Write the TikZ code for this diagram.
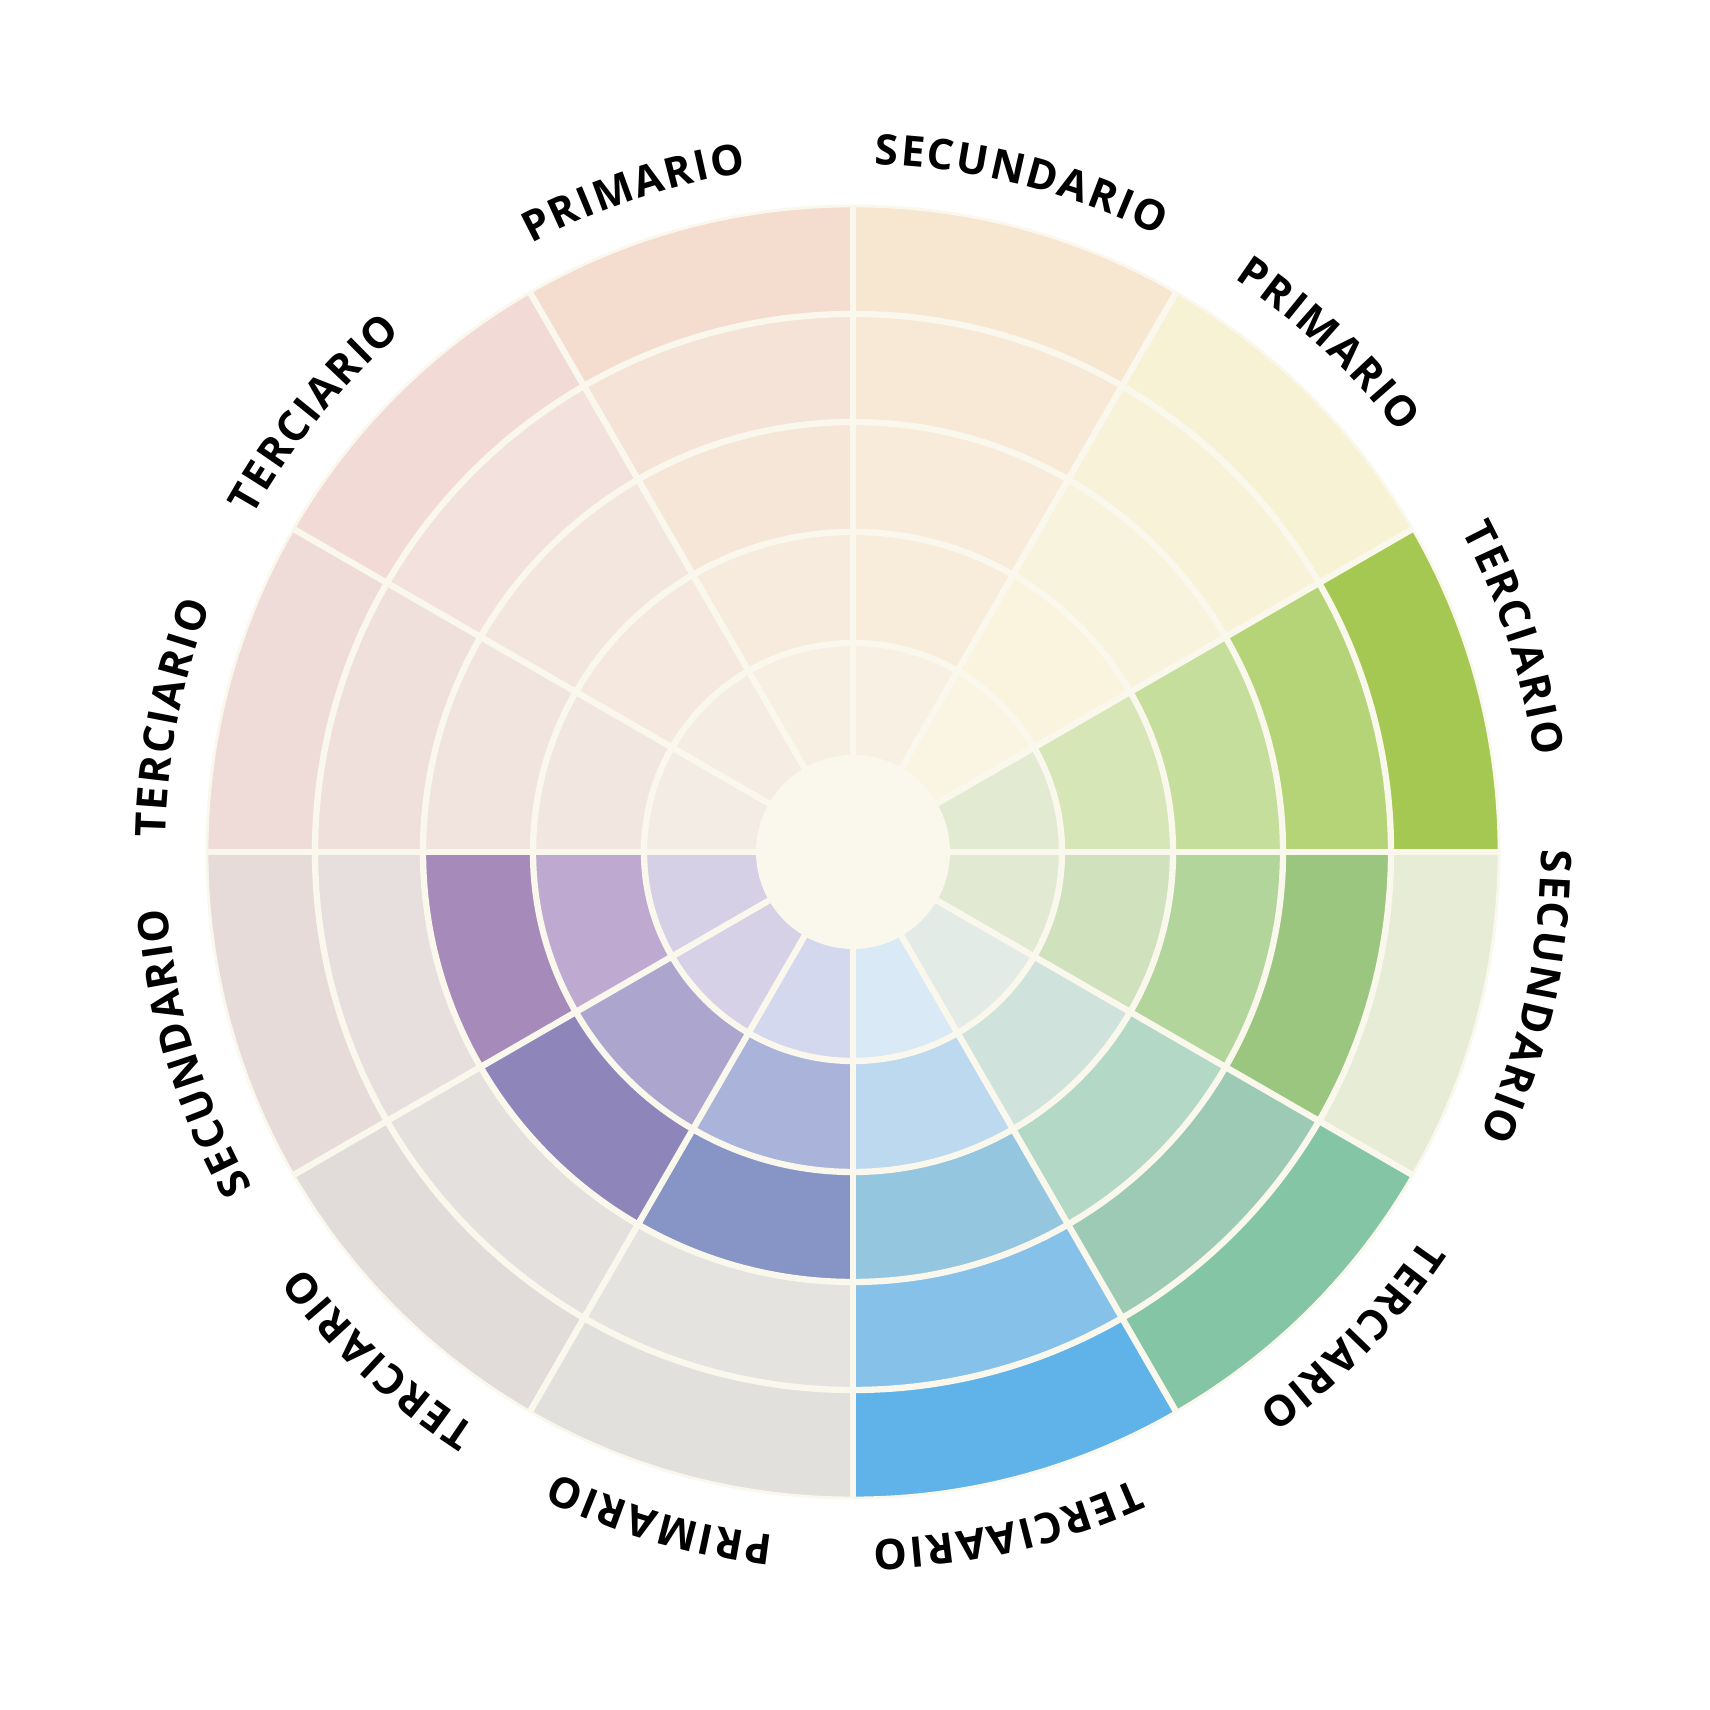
\documentclass[tikz,border=0pt]{standalone}
\usepackage{fontspec}
\usepackage{tikz}
\usetikzlibrary{decorations.text}
\newfontfamily\wheelfont{Open Sans}
\newcommand{\rimfont}{\wheelfont\bfseries\fontsize{12}{14}\selectfont\kern0.6pt}
\definecolor{divider}{RGB}{250,247,236}
\definecolor{hub}{RGB}{250,247,236}

\tikzset{
  divline/.style={draw=divider, line width=1.8pt},
  rimlabel/.style={decorate, decoration={text along path, text align=center,
      text={|\rimfont|#1}}}
}

\begin{document}
\begin{tikzpicture}
\useasboundingbox (0,0) rectangle (17.1,17.1);
\fill[white] (0,0) rectangle (17.1,17.1);
\begin{scope}[shift={(8.53,8.58)}]
% colour cells: start angle / ring 1 (inner) ... ring 5 (outer)
\foreach \s/\ca/\cb/\cc/\cd/\ce in {
    0/E3EAD2/D6E6B6/C6DE9B/B5D477/A5C852,
    30/FAF5E3/FAF3DE/F8F3DC/F8F3D8/F7F2D3,
    60/F8F0E2/F8EDDB/F8EBD9/F8E9D6/F7E6D0,
    90/F7EFE2/F6EBDC/F5E6D8/F4E3D6/F4DCCF,
    120/F5EDE3/F4E8DF/F3E6DF/F2E1DC/F2DAD6,
    150/F3ECE5/F1E6E0/F1E4DF/F0E0DC/EFDCD9,
    180/D6D0E7/BEA9D1/A68AB9/E6DFDD/E6DBD9,
    210/D6D1E7/ACA6CF/8E86BB/E4E0DD/E1DCDA,
    240/D3D8EE/AAB4DA/8795C6/E5E3DF/E1E0DD,
    270/D9E9F6/BCD9F0/95C6E0/86C1E9/60B3E8,
    300/E3EBE6/CFE3DC/B3D9C6/9DCAB4/84C5A6,
    330/E1E9D3/CFE2BD/B2D59C/9BC67F/E7ECD6}{
  \foreach \c/\ri/\ro in {\ca/0.95/2.09, \cb/2.09/3.20, \cc/3.20/4.30,
                          \cd/4.30/5.38, \ce/5.38/6.46}{
    \definecolor{cellc}{HTML}{\c}
    \fill[cellc] (\s:\ri) arc[start angle=\s, end angle=\s+30, radius=\ri]
      -- (\s+30:\ro) arc[start angle=\s+30, end angle=\s, radius=\ro] -- cycle;
  }
}
% ring and spoke dividers
\foreach \r in {2.09,3.20,4.30,5.38}
  \draw[divline] (0,0) circle[radius=\r];
\foreach \a in {0,30,...,330}
  \draw[divline] (\a:0.95) -- (\a:6.46);
\draw[divider, line width=0.8pt] (0,0) circle[radius=6.46];
\fill[hub] (0,0) circle[radius=0.97];
% labels round the rim
\path[rimlabel=SECUNDARIO] (104:6.88) arc[start angle=104, end angle=48, radius=6.88];
\path[rimlabel=PRIMARIO] (75:6.88) arc[start angle=75, end angle=19, radius=6.88];
\path[rimlabel=TERCIARIO] (46:6.88) arc[start angle=46, end angle=-10, radius=6.88];
\path[rimlabel=SECUNDARIO] (16:6.88) arc[start angle=16, end angle=-40, radius=6.88];
\path[rimlabel=TERCIARIO] (-16:6.88) arc[start angle=-16, end angle=-72, radius=6.88];
\path[rimlabel=TERCIAARIO] (-49:6.88) arc[start angle=-49, end angle=-105, radius=6.88];
\path[rimlabel=PRIMARIO] (-78:6.88) arc[start angle=-78, end angle=-134, radius=6.88];
\path[rimlabel=TERCIARIO] (-105:6.88) arc[start angle=-105, end angle=-161, radius=6.88];
\path[rimlabel=SECUNDARIO] (-135:6.88) arc[start angle=-135, end angle=-191, radius=6.88];
\path[rimlabel=TERCIARIO] (197:6.88) arc[start angle=197, end angle=141, radius=6.88];
\path[rimlabel=TERCIARIO] (169:6.88) arc[start angle=169, end angle=113, radius=6.88];
\path[rimlabel=PRIMARIO] (136.5:6.88) arc[start angle=136.5, end angle=80.5, radius=6.88];
\end{scope}
\end{tikzpicture}
\end{document}
